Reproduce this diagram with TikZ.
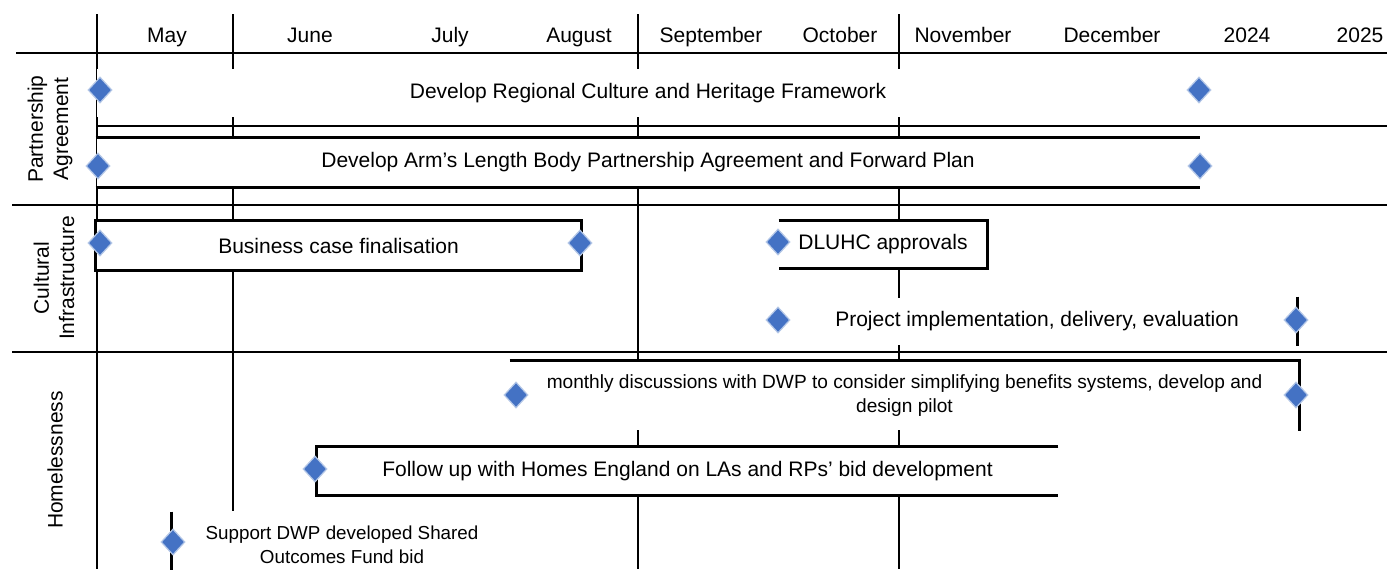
\documentclass[tikz,border=0pt]{standalone}
\usepackage{fontspec}
\setmainfont{Liberation Sans}
\usepackage{tikz}
\usetikzlibrary{shapes.geometric}
\definecolor{msblue}{HTML}{4472C4}

\begin{document}
\begin{tikzpicture}[x=0.5pt, y=-0.5pt, line width=1.3pt,
    bar/.style = {fill=white, inner sep=0, font=\fontsize{10.5}{12.6}\selectfont},
    ms/.style = {diamond, fill=msblue, draw=msblue!40, line width=0.6pt, inner sep=0, minimum width=12pt, minimum height=13pt},
    hd/.style = {anchor=base, inner sep=0, font=\fontsize{10.5}{12.6}\selectfont},
    lane/.style = {rotate=90, align=center, font=\fontsize{10.5}{12.6}\selectfont}]

    \useasboundingbox (0,0) rectangle (1387,569);

    \draw (16,53) -- (1387,53);
    \draw (12,205) -- (1387,205);
    \draw (12,352) -- (1387,352);
    \draw (97,126) -- (1387,126);
    \draw (97,14) -- (97,569);
    \draw (233,14) -- (233,511);
    \draw (638,14) -- (638,569);
    \draw (899,14) -- (899,569);

    \node [hd] (may) at (167,42) {May};
    \node [hd] (jun) at (310,42) {June};
    \node [hd] (jul) at (450,42) {July};
    \node [hd] (aug) at (579,42) {August};
    \node [hd] (sep) at (711,42) {September};
    \node [hd] (oct) at (840,42) {October};
    \node [hd] (nov) at (963,42) {November};
    \node [hd] (dec) at (1112,42) {December};
    \node [hd] (y24) at (1247,42) {2024};
    \node [hd] (y25) at (1360,42) {2025};

    \node [lane] (pa) at (50,129) {Partnership\\Agreement};
    \node [lane] (ci) at (54,278) {Cultural\\Infrastructure};
    \node [lane] (hl) at (55,460) {Homelessness};

    \node [bar, minimum width=551pt, minimum height=24pt] (r1) at (648,93) {Develop Regional Culture and Heritage Framework};
    \node [bar, minimum width=551pt, minimum height=23.5pt] (r2) at (648,162.5) {Develop Arm's Length Body Partnership Agreement and Forward Plan};
    \node [bar, minimum width=241.5pt, minimum height=23.5pt] (c1) at (338.5,245.5) {Business case finalisation};
    \node [bar, minimum width=103pt, minimum height=22.5pt] (c2) at (883,244.5) {DLUHC approvals};
    \node [bar, minimum width=259pt, minimum height=23.5pt] (c3) at (1037,321.5) {Project implementation, delivery, evaluation};
    \node [bar, minimum width=393.5pt, minimum height=34pt, align=center, font=\fontsize{9.55}{12}\selectfont] (h1) at (904.5,396) {monthly discussions with DWP to consider simplifying benefits systems, develop and\\design pilot};
    \node [bar, minimum width=369.5pt, minimum height=23pt] (h2) at (687.5,471) {Follow up with Homes England on LAs and RPs' bid development};
    \node [bar, minimum width=169pt, minimum height=32pt, align=center, font=\fontsize{9.4}{12}\selectfont] (h3) at (342,545) {Support DWP developed Shared\\Outcomes Fund bid};

    \draw (r2.north west) -- (r2.north east) (r2.south west) -- (r2.south east);
    \draw (c1.north west) rectangle (c1.south east);
    \draw (c2.north west) -- (c2.north east) -- (c2.south east) -- (c2.south west);
    \draw (c3.north east) -- (c3.south east);
    \draw (h1.north west) -- (h1.north east) -- (h1.south east);
    \draw (h2.north east) -- (h2.north west) -- (h2.south west) -- (h2.south east);
    \draw (h3.north west) -- (h3.south west);

    \node [ms] (r1s) at (100,90) {};
    \node [ms] (r1e) at (1199,90) {};
    \node [ms] (r2s) at (98,166) {};
    \node [ms] (r2e) at (1200,166) {};
    \node [ms] (c1s) at (100,243) {};
    \node [ms] (c1e) at (580,243) {};
    \node [ms] (c2s) at (778,242) {};
    \node [ms] (c3s) at (778,320) {};
    \node [ms] (c3e) at (1296,320) {};
    \node [ms] (h1s) at (516,395) {};
    \node [ms] (h1e) at (1296,395) {};
    \node [ms] (h2s) at (315,469) {};
    \node [ms] (h3s) at (173,542) {};

\end{tikzpicture}
\end{document}
